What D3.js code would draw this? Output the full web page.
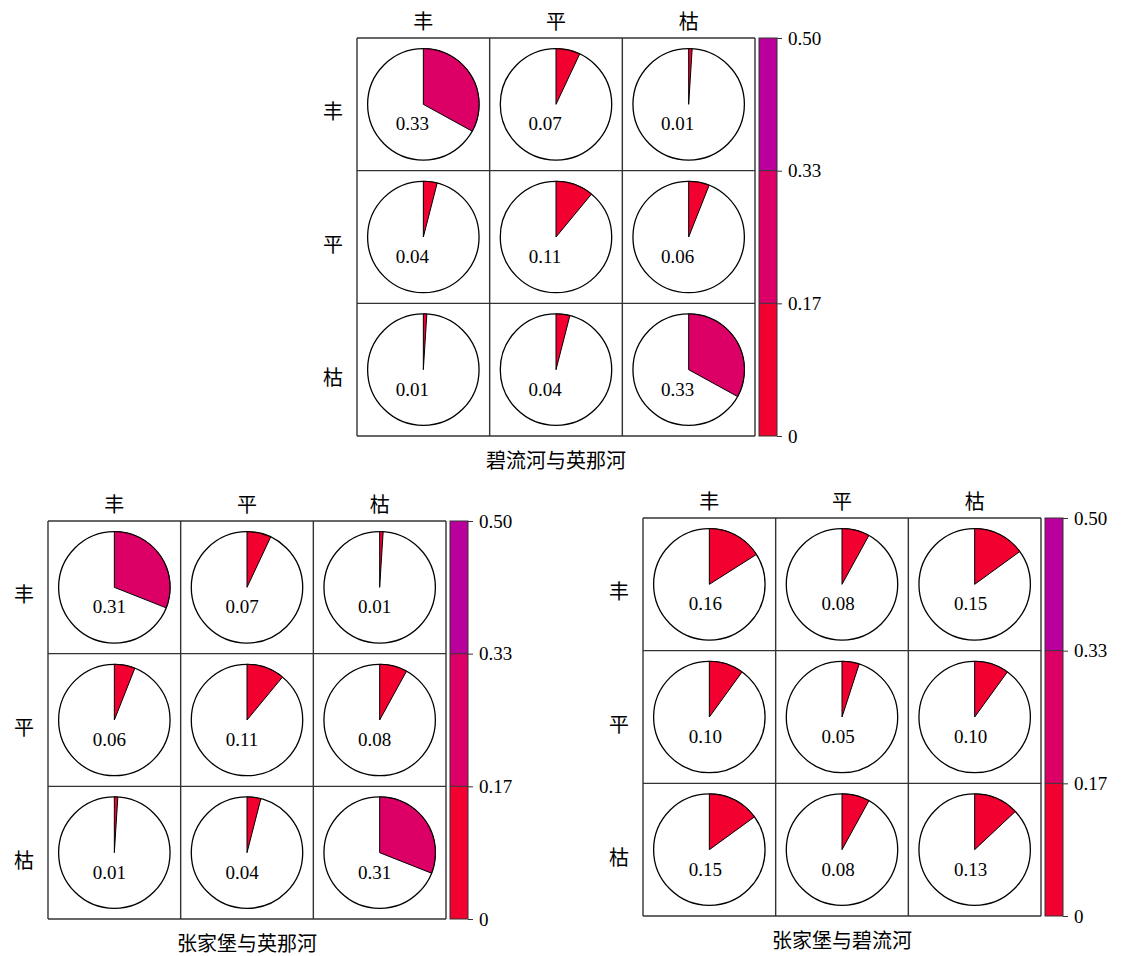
<!DOCTYPE html>
<html><head><meta charset="utf-8">
<script src="https://cdn.jsdelivr.net/npm/d3@7"></script>
<style>body{margin:0;background:#fff}</style>
</head><body>
<svg id="chart" width="1126" height="956"></svg>
<script>
const rowLabels = ["丰","平","枯"];
const colLabels = ["丰","平","枯"];
const panelTitles = ["碧流河与英那河","张家堡与英那河","张家堡与碧流河"];
const valuesBY = [[0.33,0.07,0.01],[0.04,0.11,0.06],[0.01,0.04,0.33]];
const valuesZY = [[0.31,0.07,0.01],[0.06,0.11,0.08],[0.01,0.04,0.31]];
const valuesZB = [[0.16,0.08,0.15],[0.10,0.05,0.10],[0.15,0.08,0.13]];
const colorBreaks = [0, 1/6, 1/3, 0.5];
const colorTickLabels = ["0","0.17","0.33","0.50"];
const colorRange = ["#F2002F","#DC0066","#BA009C"];

const panels = [
  {x:357, y:38, size:398, values:valuesBY, title:panelTitles[0], lx:-11},
  {x:48, y:521, size:398, values:valuesZY, title:panelTitles[1], lx:-5},
  {x:643, y:518, size:398, values:valuesZB, title:panelTitles[2], lx:-4}
];

const svg = d3.select("#chart");
const serif = "'Liberation Serif','Times New Roman',serif";
const cjk = "'Noto Sans CJK SC',sans-serif";
const color = d3.scaleThreshold().domain(colorBreaks.slice(1,3)).range(colorRange);

panels.forEach(p => {
  const g = svg.append("g").attr("transform", `translate(${p.x},${p.y})`);
  const band = d3.scaleBand().domain([0,1,2]).range([0,p.size]);
  const cs = band.bandwidth();
  const r = cs*0.42;
  p.values.forEach((row, i) => row.forEach((v, j) => {
    const cx = band(j)+cs/2, cy = band(i)+cs/2;
    const cg = g.append("g").attr("transform", `translate(${cx},${cy})`);
    cg.append("circle").attr("r", r).attr("fill","#fff").attr("stroke","#000").attr("stroke-width",1.3);
    const arc = d3.arc().innerRadius(0).outerRadius(r);
    cg.append("path").attr("d", arc({startAngle:0, endAngle:v*2*Math.PI}))
      .attr("fill", color(v)).attr("stroke","#000").attr("stroke-width",1);
    cg.append("text").attr("x", p.lx).attr("y", 26).attr("text-anchor","middle")
      .attr("font-family", serif).attr("font-size", 19).text(v.toFixed(2));
  }));
  [0,1,2,3].forEach(k => {
    const pos = k*cs;
    g.append("line").attr("x1",pos).attr("x2",pos).attr("y1",0).attr("y2",p.size).attr("stroke","#333").attr("stroke-width",1.4);
    g.append("line").attr("y1",pos).attr("y2",pos).attr("x1",0).attr("x2",p.size).attr("stroke","#333").attr("stroke-width",1.4);
  });
  colLabels.forEach((t,j) => g.append("text").attr("x", band(j)+cs/2).attr("y", -9)
    .attr("text-anchor","middle").attr("font-family",cjk).attr("font-size",20).text(t));
  rowLabels.forEach((t,i) => g.append("text").attr("x", -24).attr("y", band(i)+cs/2+15)
    .attr("text-anchor","middle").attr("font-family",cjk).attr("font-size",20).text(t));
  g.append("text").attr("x", p.size/2).attr("y", p.size+32).attr("text-anchor","middle")
    .attr("font-family",cjk).attr("font-size",20).text(p.title);
  // colorbar
  const cb = g.append("g").attr("transform", `translate(${p.size+4},0)`);
  const cw = 18;
  const yTick = d3.scalePoint().domain(colorTickLabels).range([p.size,0]);
  colorRange.forEach((c,i) => {
    const y0 = yTick(colorTickLabels[i]), y1 = yTick(colorTickLabels[i+1]);
    cb.append("rect").attr("x",0).attr("width",cw).attr("y",y1).attr("height",y0-y1).attr("fill",c);
  });
  cb.append("rect").attr("width",cw).attr("height",p.size).attr("fill","none").attr("stroke","#333").attr("stroke-width",1);
  const axis = d3.axisRight(yTick).tickSize(5).tickPadding(6);
  const ag = cb.append("g").attr("transform", `translate(${cw},0)`).call(axis);
  ag.select(".domain").remove();
  ag.selectAll("line").attr("stroke","#333");
  ag.selectAll("text").attr("font-family",serif).attr("font-size",19).attr("fill","#000");
  colorTickLabels.slice(1,3).forEach(t => cb.append("line").attr("x1",0).attr("x2",cw)
    .attr("y1",yTick(t)).attr("y2",yTick(t)).attr("stroke","#333").attr("stroke-width",1));
});
</script>
</body></html>
